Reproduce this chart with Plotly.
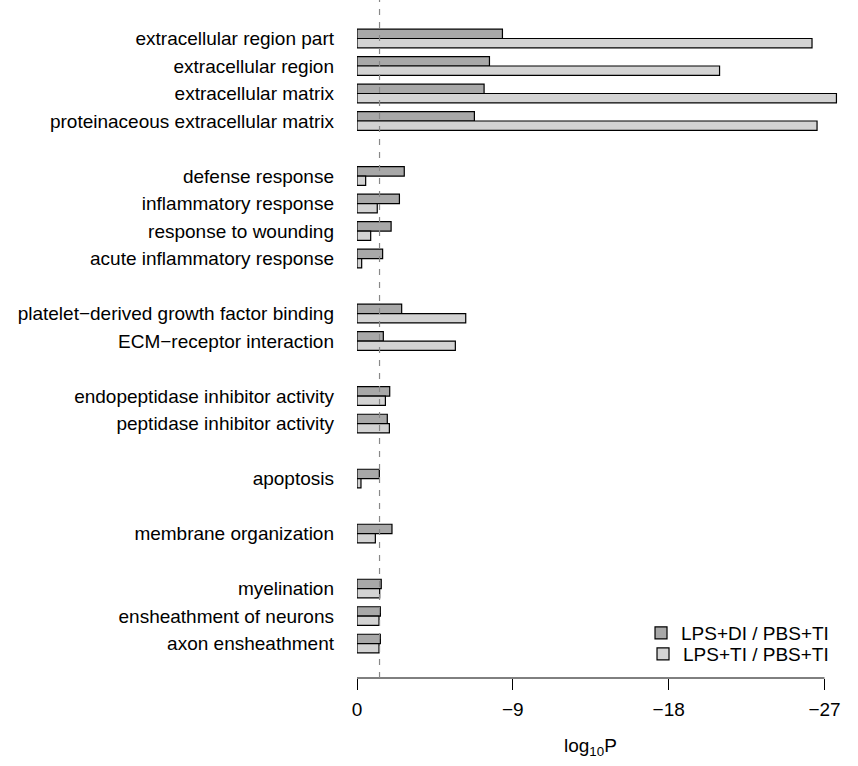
import plotly.graph_objects as go

categories = [
    "extracellular region part", "extracellular region", "extracellular matrix",
    "proteinaceous extracellular matrix", None,
    "defense response", "inflammatory response", "response to wounding",
    "acute inflammatory response", None,
    "platelet\u2212derived growth factor binding", "ECM\u2212receptor interaction", None,
    "endopeptidase inhibitor activity", "peptidase inhibitor activity", None,
    "apoptosis", None,
    "membrane organization", None,
    "myelination", "ensheathment of neurons", "axon ensheathment",
]

# log10 P values (None = spacer row between groups)
lps_di = [-8.40, -7.65, -7.34, -6.78, None,
          -2.73, -2.45, -1.97, -1.48, None,
          -2.58, -1.52, None,
          -1.89, -1.75, None,
          -1.29, None,
          -2.02, None,
          -1.40, -1.35, -1.35]
lps_ti = [-26.28, -20.94, -27.69, -26.57, None,
          -0.50, -1.17, -0.79, -0.27, None,
          -6.28, -5.68, None,
          -1.64, -1.87, None,
          -0.23, None,
          -1.06, None,
          -1.31, -1.27, -1.27]

series_names = ["LPS+DI / PBS+TI", "LPS+TI / PBS+TI"]
tick_vals_x = [0, -9, -18, -27]
tick_text_x = ["0", "\u22129", "\u221218", "\u221227"]
cutoff = -1.301  # log10(0.05)

pos = list(range(len(categories)))
ypos = [p for p, c in zip(pos, categories) if c is not None]
ylabels = [c for c in categories if c is not None]

def pick(vals):
    return [v for v, c in zip(vals, categories) if c is not None]

FONT = "Liberation Sans, Arial, Helvetica, sans-serif"
FS = 19
PLOT_H = 678.0

fig = go.Figure()
fig.add_trace(go.Bar(
    y=ypos, x=pick(lps_di), orientation="h", name=series_names[0],
    marker=dict(color="#a8a8a8", line=dict(color="black", width=1.2)),
    legend="legend",
))
fig.add_trace(go.Bar(
    y=ypos, x=pick(lps_ti), orientation="h", name=series_names[1],
    marker=dict(color="#d3d3d3", line=dict(color="black", width=1.2)),
    legend="legend2",
))

leg_common = dict(x=0.9735, xanchor="right", yanchor="middle",
                  bgcolor="rgba(0,0,0,0)", font=dict(size=FS),
                  itemwidth=30, tracegroupgap=0)

fig.update_layout(
    width=858, height=766,
    margin=dict(l=357, r=11, t=0, b=88, autoexpand=False),
    paper_bgcolor="white", plot_bgcolor="white",
    barmode="group", bargap=0.32, bargroupgap=0,
    font=dict(family=FONT, size=FS, color="black"),
    legend=dict(y=(PLOT_H - 633) / PLOT_H, **leg_common),
    legend2=dict(y=(PLOT_H - 654) / PLOT_H, **leg_common),
    showlegend=True,
)
fig.update_xaxes(
    range=[0, -28.3], tickvals=tick_vals_x, ticktext=tick_text_x,
    ticks="outside", ticklen=11, tickwidth=1, tickcolor="black",
    showline=False, showgrid=False, zeroline=False,
    ticklabelstandoff=3, tickfont=dict(size=FS),
)
fig.update_yaxes(
    range=[23.25, -1.4], tickvals=ypos, ticktext=ylabels,
    showgrid=False, zeroline=False, showline=False, ticks="",
    ticklabelstandoff=22, tickfont=dict(size=FS),
)
# axis line spanning only the tick range
fig.add_shape(type="line", xref="x", yref="paper", x0=0, x1=-27, y0=0, y1=0,
              line=dict(color="black", width=1))
# significance cutoff
fig.add_shape(type="line", xref="x", yref="paper", x0=cutoff, x1=cutoff, y0=0, y1=1,
              line=dict(color="#888888", width=1.2, dash="6px,7px"), layer="above")
fig.add_annotation(x=-13.5, xref="x", y=(PLOT_H - 747) / PLOT_H, yref="paper",
                   yanchor="middle", text="log<sub>10</sub>P", showarrow=False,
                   font=dict(size=FS))

fig.write_html("out.html", config={"displayModeBar": False},
               post_script="document.body.style.margin='0px';")
